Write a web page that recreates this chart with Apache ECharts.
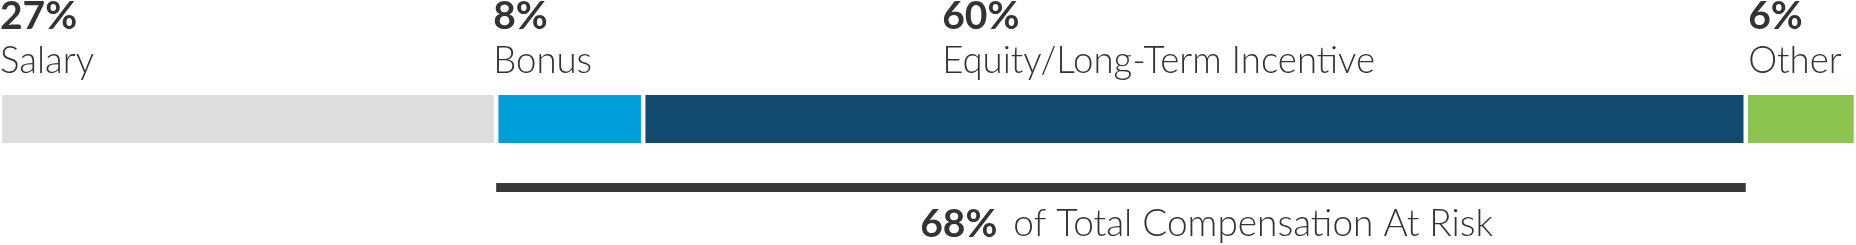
<!DOCTYPE html>
<html>
<head>
<meta charset="utf-8">
<title>Compensation Mix</title>
<script src="https://cdn.jsdelivr.net/npm/echarts@6/dist/echarts.min.js"></script>
<style>
  html, body { margin: 0; padding: 0; background: #ffffff; }
  #chart { width: 1856px; height: 245px; }
</style>
</head>
<body>
<div id="chart"></div>
<script>
// Pay components and their share of total compensation (%)
const categories = ['Salary', 'Bonus', 'Equity/Long-Term Incentive', 'Other'];
const shares = [27, 8, 60, 6];

// Portion of pay that is at risk (Bonus + Equity)
const atRiskShare = 68;
const atRiskCaption = 'of Total Compensation At Risk';

// Styling
const barColors = ['#dcdddf', '#009fdb', '#124b6f', '#8bc550'];
const textColor = '#333333';
const ruleColor = '#383838';
const fontFamily = 'Lato, "Open Sans", sans-serif';
const gapWidth = 2.25; // white seam drawn on each side of a segment

// Horizontal nudges of each label from the left edge of its bar
const labelDx = [0, -3, 299, 2.5];

const axisMax = shares.reduce((a, b) => a + b, 0);

const chart = echarts.init(document.getElementById('chart'), null, { renderer: 'canvas' });

const richStyles = {
  p: { fontFamily, fontSize: 39, fontWeight: 'bold', color: textColor, lineHeight: 44 },
  n: { fontFamily, fontSize: 36.6, fontWeight: 300, color: textColor, lineHeight: 44 },
  c: { fontFamily, fontSize: 37, fontWeight: 300, color: textColor, lineHeight: 44, padding: [0, 0, 0, 16] }
};

const mixSeries = categories.map((name, i) => ({
  name,
  type: 'bar',
  stack: 'mix',
  xAxisIndex: 0,
  yAxisIndex: 0,
  barWidth: '100%',
  data: [shares[i]],
  itemStyle: { color: barColors[i], borderColor: '#ffffff', borderWidth: gapWidth },
  label: {
    show: true,
    position: [labelDx[i], -98],
    align: 'left',
    verticalAlign: 'top',
    formatter: p => '{p|' + p.value + '%}\n{n|' + p.seriesName + '}',
    rich: richStyles
  },
  silent: true,
  animation: false
}));

const riskSeries = [
  {
    name: 'lead',
    type: 'bar',
    stack: 'risk',
    xAxisIndex: 1,
    yAxisIndex: 1,
    barWidth: '100%',
    data: [shares[0]],
    itemStyle: { color: 'rgba(0,0,0,0)' },
    silent: true,
    animation: false
  },
  {
    name: atRiskCaption,
    type: 'bar',
    stack: 'risk',
    xAxisIndex: 1,
    yAxisIndex: 1,
    barWidth: '100%',
    data: [atRiskShare],
    itemStyle: { color: ruleColor },
    label: {
      show: true,
      position: [424, 19],
      align: 'left',
      verticalAlign: 'top',
      formatter: p => '{p|' + p.value + '%}{c|' + p.seriesName + '}',
      rich: richStyles
    },
    silent: true,
    animation: false
  }
];

chart.setOption({
  backgroundColor: '#ffffff',
  animation: false,
  grid: [
    { left: -gapWidth, right: -gapWidth, top: 95 - gapWidth, height: 48 + 2 * gapWidth },
    { left: -2 * gapWidth, right: 0, top: 183, height: 9 }
  ],
  xAxis: [
    { type: 'value', gridIndex: 0, min: 0, max: axisMax, show: false },
    { type: 'value', gridIndex: 1, min: 0, max: axisMax, show: false }
  ],
  yAxis: [
    { type: 'category', gridIndex: 0, data: ['mix'], show: false },
    { type: 'category', gridIndex: 1, data: ['risk'], show: false }
  ],
  series: mixSeries.concat(riskSeries)
});
</script>
</body>
</html>
